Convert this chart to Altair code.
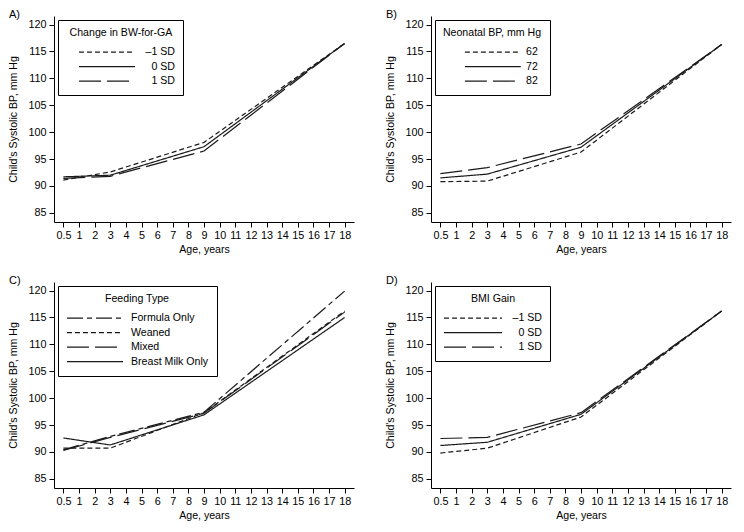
import altair as alt
import pandas as pd

# x axis: equally spaced age categories
AGE_LABELS = ["0.5"] + [str(i) for i in range(1, 19)]
KNOT_AGES = ["0.5", "3", "9", "18"]
Y_TICKS = [85, 90, 95, 100, 105, 110, 115, 120]

# Panel A: Change in BW-for-GA
A_GROUPS = ["\u20131 SD", "0 SD", "1 SD"]
A_MINUS1 = [91.1, 92.6, 98.1, 116.5]
A_ZERO = [91.7, 92.0, 97.3, 116.5]
A_PLUS1 = [91.4, 91.8, 96.5, 116.5]

# Panel B: Neonatal BP
B_GROUPS = ["62", "72", "82"]
B_62 = [90.8, 90.9, 96.3, 116.3]
B_72 = [91.5, 92.2, 97.2, 116.3]
B_82 = [92.3, 93.4, 97.8, 116.3]

# Panel C: Feeding type
C_GROUPS = ["Formula Only", "Weaned", "Mixed", "Breast Milk Only"]
C_FORMULA = [90.4, 92.9, 97.4, 119.9]
C_WEANED = [90.7, 90.7, 97.3, 116.2]
C_MIXED = [90.3, 92.7, 97.2, 116.0]
C_BREAST = [92.6, 91.3, 96.9, 115.0]

# Panel D: BMI gain
D_GROUPS = ["\u20131 SD", "0 SD", "1 SD"]
D_MINUS1 = [89.8, 90.7, 96.5, 116.2]
D_ZERO = [91.2, 91.8, 97.0, 116.2]
D_PLUS1 = [92.5, 92.7, 97.3, 116.2]

SHORT = [5, 3]
SOLID = [1, 0]
LONG = [22, 6]
LONGSHORT = [16, 4, 5, 4]

W, H = 300, 206
FONT = "Liberation Sans"

# legend line samples (unit path, scaled by sqrt(symbolSize)/2)
SYM_A = "M-1,0M0.85,0H9.46"
SYM_B = "M-1,0M1.6,0H10.2"
SYM_C = "M-1,0H7.62"
SYM_D = "M-1,0H7.92"


def panel(letter, legend_title, groups, series, dashes, label_align,
          label_offset, symbol):
    rows = []
    for g, vals in zip(groups, series):
        for a, v in zip(KNOT_AGES, vals):
            rows.append({"age": a, "bp": v, "group": g})
    df = pd.DataFrame(rows)
    return (
        alt.Chart(
            df,
            title=alt.TitleParams(
                letter, anchor="start", frame="bounds", fontSize=11,
                fontWeight="normal", font=FONT, offset=-4, color="black",
            ),
        )
        .mark_line(color="#1a1a1a", strokeWidth=1.2)
        .encode(
            x=alt.X(
                "age:O",
                sort=AGE_LABELS,
                scale=alt.Scale(type="point", domain=AGE_LABELS, padding=0.6),
                axis=alt.Axis(title="Age, years", labelAngle=0, titlePadding=5),
            ),
            y=alt.Y(
                "bp:Q",
                scale=alt.Scale(domain=[83.3, 121.6], nice=False, zero=False),
                axis=alt.Axis(title="Child's Systolic BP, mm Hg", values=Y_TICKS,
                              titlePadding=9, labelPadding=3),
            ),
            strokeDash=alt.StrokeDash(
                "group:N",
                scale=alt.Scale(domain=groups, range=dashes),
                legend=alt.Legend(
                    title=legend_title,
                    orient="top-left",
                    labelAlign=label_align,
                    labelOffset=label_offset,
                    symbolType=symbol,
                ),
            ),
        )
        .properties(width=W, height=H)
    )


pA = panel("A)", "Change in BW-for-GA", A_GROUPS, [A_MINUS1, A_ZERO, A_PLUS1],
           [SHORT, SOLID, LONG], "right", 94, SYM_A)
pB = panel("B)", "Neonatal BP, mm Hg", B_GROUPS, [B_62, B_72, B_82],
           [SHORT, SOLID, LONG], "left", 64, SYM_B)
pC = panel("C)", "Feeding Type", C_GROUPS, [C_FORMULA, C_WEANED, C_MIXED, C_BREAST],
           [LONGSHORT, SHORT, LONG, SOLID], "left", 50, SYM_C)
pD = panel("D)", "BMI Gain", D_GROUPS, [D_MINUS1, D_ZERO, D_PLUS1],
           [SHORT, SOLID, LONG], "right", 84, SYM_D)

top = alt.hconcat(pA, pB, spacing=30).resolve_scale(strokeDash="independent")
bottom = alt.hconcat(pC, pD, spacing=30).resolve_scale(strokeDash="independent")

chart = (
    alt.vconcat(top, bottom, spacing=18)
    .resolve_scale(strokeDash="independent")
    .properties(padding=0)
    .configure_view(stroke="transparent")
    .configure_axis(
        domainColor="black",
        tickColor="black",
        labelColor="black",
        titleColor="black",
        labelFont=FONT,
        titleFont=FONT,
        labelFontSize=10.8,
        titleFontSize=10.6,
        titleFontWeight="normal",
        grid=False,
        tickSize=5,
        labelPadding=2,
    )
    .configure_legend(
        strokeColor="black",
        fillColor="white",
        padding=8,
        offset=4,
        titleFont=FONT,
        labelFont=FONT,
        titleFontSize=10.6,
        labelFontSize=10.6,
        titleFontWeight="normal",
        titleColor="black",
        labelColor="black",
        titleAnchor="middle",
        titlePadding=6,
        symbolSize=169,
        symbolStrokeWidth=1.2,
        symbolStrokeColor="#1a1a1a",
        rowPadding=0.5,
    )
)

chart.save("out.html", embed_options={"renderer": "svg", "actions": False})
